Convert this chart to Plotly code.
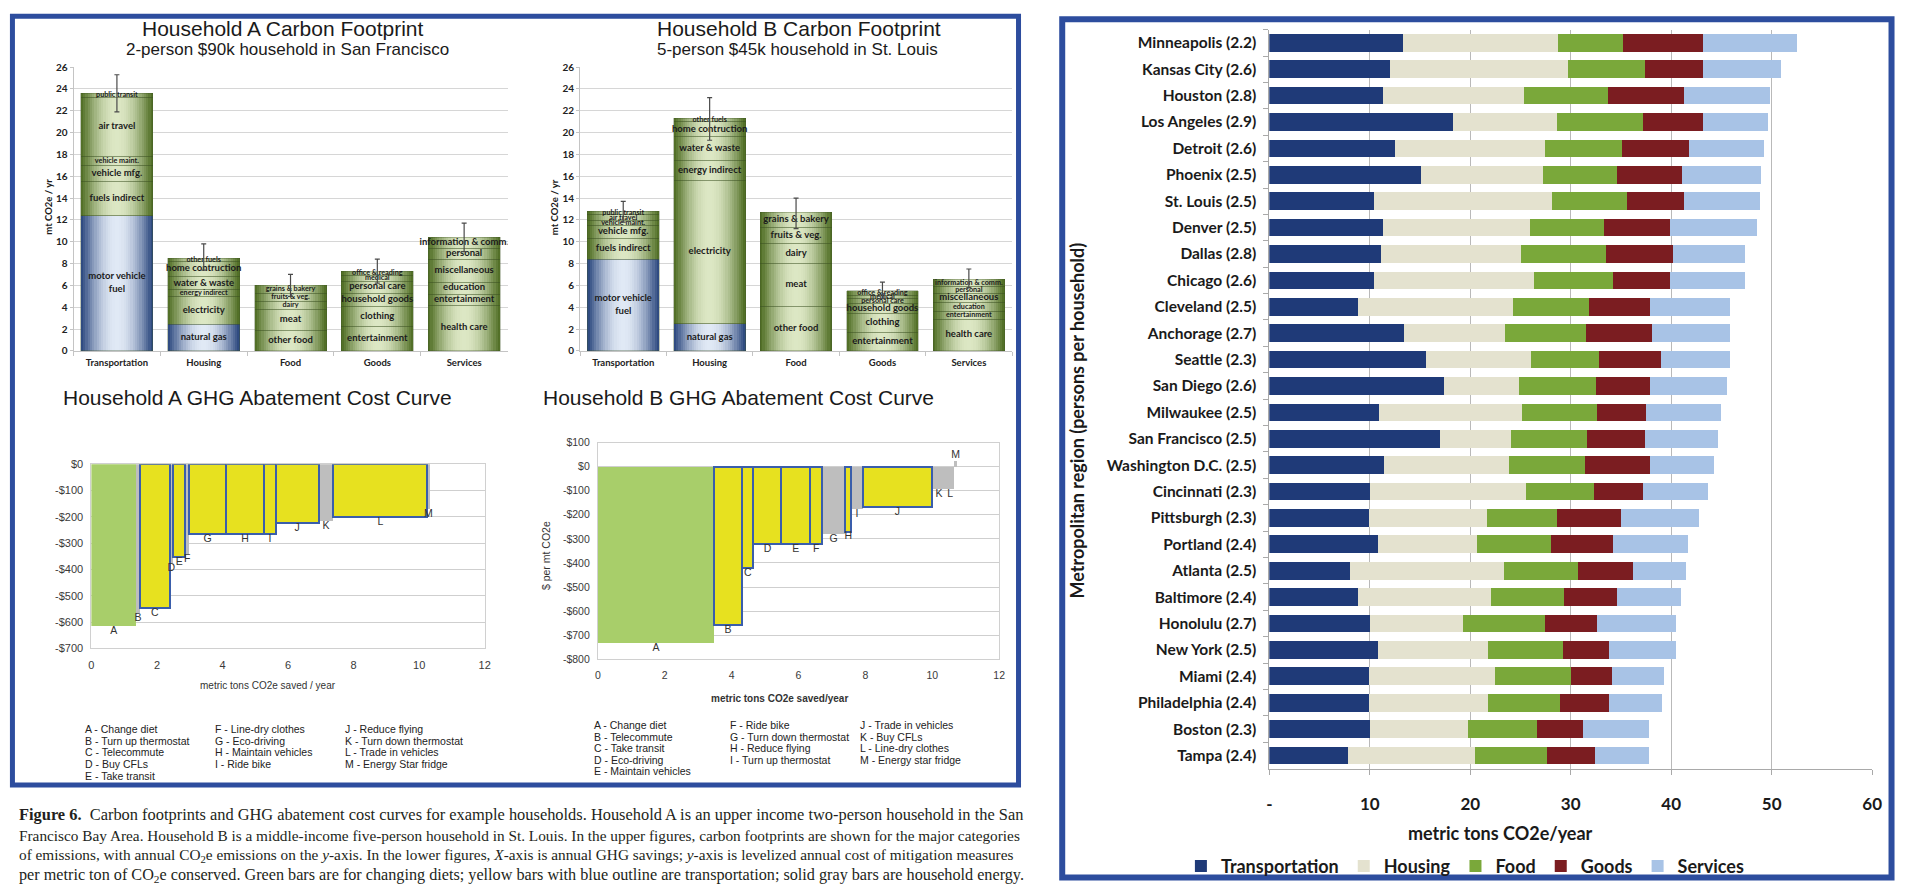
import plotly.graph_objects as go

FIG_W, FIG_H = 1905, 886


def fx(p):
    return p / FIG_W


def fy(p):
    return 1 - p / FIG_H


# ---------------- carbon footprint by category (mt CO2e / yr) ----------------
categories = ["Transportation", "Housing", "Food", "Goods", "Services"]

transport_parts = ["motor vehicle<br>fuel", "fuels indirect", "vehicle mfg.", "vehicle maint.", "air travel", "public transit"]
housing_parts = ["natural gas", "electricity", "energy indirect", "water & waste", "home contruction", "other fuels"]
food_parts = ["other food", "meat", "dairy", "fruits & veg.", "grains & bakery"]
goods_parts = ["entertainment", "clothing", "household goods", "personal care", "medical", "office & reading"]
services_parts = ["health care", "entertainment", "education", "miscellaneous", "personal", "information & comm."]

# Household A: 2-person $90k household in San Francisco (segments bottom to top)
a_transport = [12.4, 3.1, 1.5, 0.8, 5.4, 0.4]
a_housing = [2.45, 2.5, 0.65, 1.2, 1.4, 0.3]
a_food = [1.9, 1.9, 0.7, 0.8, 0.7]
a_goods = [2.2, 1.9, 1.2, 1.1, 0.5, 0.4]
a_services = [4.2, 1.0, 1.1, 2.1, 1.0, 1.0]
a_range_low = [21.9, 7.4, 5.0, 6.2, 9.1]
a_range_high = [25.3, 9.8, 7.0, 8.4, 11.7]

# Household B: 5-person $45k household in St. Louis
b_transport = [8.4, 1.9, 1.2, 0.4, 0.6, 0.3]
b_housing = [2.5, 13.1, 1.8, 2.2, 1.4, 0.3]
b_food = [4.1, 3.9, 1.8, 1.5, 1.4]
b_goods = [1.7, 1.7, 0.9, 0.5, 0.3, 0.4]
b_services = [2.9, 0.7, 0.8, 0.9, 0.6, 0.66]
b_range_low = [11.8, 19.3, 11.2, 4.8, 5.8]
b_range_high = [13.7, 23.2, 14.0, 6.3, 7.5]

# bottom segment of these categories is direct fuel use
direct_fuel = [True, True, False, False, False]

# ---------------- abatement cost curves ----------------
letters = list("ABCDEFGHIJKLM")

a_measures = ["Change diet", "Turn up thermostat", "Telecommute", "Buy CFLs", "Take transit",
              "Line-dry clothes", "Eco-driving", "Maintain vehicles", "Ride bike",
              "Reduce flying", "Turn down thermostat", "Trade in vehicles", "Energy Star fridge"]
a_savings = [1.36, 0.12, 0.91, 0.10, 0.38, 0.11, 1.13, 1.15, 0.37, 1.30, 0.45, 2.87, 0.07]
a_cost = [-615, -565, -548, -375, -352, -340, -265, -265, -265, -222, -215, -200, -170]
a_kind = ["diet", "energy", "transport", "energy", "transport", "energy", "transport",
          "transport", "transport", "transport", "energy", "transport", "energy"]

b_measures = ["Change diet", "Telecommute", "Take transit", "Eco-driving", "Maintain vehicles",
              "Ride bike", "Turn down thermostat", "Reduce flying", "Turn up thermostat",
              "Trade in vehicles", "Buy CFLs", "Line-dry clothes", "Energy star fridge"]
b_savings = [3.47, 0.84, 0.34, 0.84, 0.86, 0.35, 0.70, 0.17, 0.36, 2.05, 0.44, 0.23, 0.10]
b_cost = [-731, -659, -420, -320, -320, -320, -280, -270, -175, -168, -95, -95, 25]
b_kind = ["diet", "transport", "transport", "transport", "transport", "transport", "energy",
          "transport", "energy", "transport", "energy", "energy", "energy"]

a_cost_ticks = [0, -100, -200, -300, -400, -500, -600, -700]
b_cost_ticks = [100, 0, -100, -200, -300, -400, -500, -600, -700, -800]
saved_ticks = [0, 2, 4, 6, 8, 10, 12]

# ---------------- metropolitan regions (metric tons CO2e / year) ----------------
metros = ["Minneapolis (2.2)", "Kansas City (2.6)", "Houston (2.8)", "Los Angeles (2.9)",
          "Detroit (2.6)", "Phoenix (2.5)", "St. Louis (2.5)", "Denver (2.5)", "Dallas (2.8)",
          "Chicago (2.6)", "Cleveland (2.5)", "Anchorage (2.7)", "Seattle (2.3)",
          "San Diego (2.6)", "Milwaukee (2.5)", "San Francisco (2.5)", "Washington D.C. (2.5)",
          "Cincinnati (2.3)", "Pittsburgh (2.3)", "Portland (2.4)", "Atlanta (2.5)",
          "Baltimore (2.4)", "Honolulu (2.7)", "New York (2.5)", "Miami (2.4)",
          "Philadelphia (2.4)", "Boston (2.3)", "Tampa (2.4)"]
metro_transportation = [13.3, 12.0, 11.3, 18.3, 12.5, 15.1, 10.4, 11.3, 11.1, 10.4, 8.8, 13.4, 15.6, 17.4,
                        10.9, 17.0, 11.4, 10.0, 9.9, 10.8, 8.0, 8.8, 10.0, 10.8, 9.9, 9.9, 10.0, 7.8]
metro_housing = [15.4, 17.7, 14.0, 10.3, 14.9, 12.1, 17.7, 14.6, 14.0, 15.9, 15.5, 10.1, 10.4, 7.5,
                 14.3, 7.1, 12.5, 15.5, 11.8, 9.9, 15.4, 13.3, 9.3, 11.0, 12.6, 11.9, 9.8, 12.7]
metro_food = [6.5, 7.7, 8.4, 8.6, 7.7, 7.4, 7.5, 7.4, 8.4, 7.9, 7.5, 8.0, 6.8, 7.6,
              7.4, 7.5, 7.5, 6.8, 6.9, 7.3, 7.3, 7.2, 8.1, 7.4, 7.5, 7.1, 6.8, 7.1]
metro_goods = [8.0, 5.8, 7.6, 6.0, 6.7, 6.5, 5.7, 6.6, 6.7, 5.7, 6.1, 6.6, 6.2, 5.4,
               4.9, 5.8, 6.5, 4.9, 6.4, 6.2, 5.5, 5.3, 5.2, 4.6, 4.1, 4.9, 4.6, 4.8]
metro_services = [9.3, 7.7, 8.5, 6.4, 7.4, 7.8, 7.5, 8.6, 7.1, 7.4, 8.0, 7.8, 6.9, 7.7,
                  7.5, 7.3, 6.4, 6.5, 7.8, 7.5, 5.3, 6.4, 7.9, 6.7, 5.2, 5.3, 6.6, 5.4]
metro_ticks = [0, 10, 20, 30, 40, 50, 60]

# ---------------- styling ----------------
BORDER_BLUE = "#2d4d9e"
BLUE_EDGE, BLUE_MID = (42, 70, 125), (224, 233, 245)
GREEN_EDGE, GREEN_MID = (78, 108, 34), (220, 231, 196)
BAR_W = 0.83
LAYERS = 16
SANS = "Liberation Sans, Arial, sans-serif"
CAL = "Lato, Open Sans, sans-serif"

fig = go.Figure()


def shade(edge, mid, t):
    return "rgb(%d,%d,%d)" % tuple(round(e + (m - e) * t) for e, m in zip(edge, mid))


def add_footprint(xa, ya, parts, low, high):
    names = [transport_parts, housing_parts, food_parts, goods_parts, services_parts]
    totals = [sum(p) for p in parts]
    fuel_x = [c for c, d in zip(categories, direct_fuel) if d]
    fuel_h = [p[0] for p, d in zip(parts, direct_fuel) if d]
    green_base = [p[0] if d else 0 for p, d in zip(parts, direct_fuel)]
    green_h = [t - b for t, b in zip(totals, green_base)]
    # cylinder-like shading: nested bars from dark rim to pale centre
    for k in range(LAYERS):
        f = 1 - (k + 0.5) / LAYERS
        t = (1 - f * f) ** 1.2
        w = BAR_W * (1 - k / LAYERS)
        fig.add_bar(x=fuel_x, y=fuel_h, base=[0] * len(fuel_x), width=w,
                    marker=dict(color=shade(BLUE_EDGE, BLUE_MID, t), line_width=0),
                    xaxis=xa, yaxis=ya, showlegend=False, hoverinfo="skip")
        fig.add_bar(x=categories, y=green_h, base=green_base, width=w,
                    marker=dict(color=shade(GREEN_EDGE, GREEN_MID, t), line_width=0),
                    xaxis=xa, yaxis=ya, showlegend=False, hoverinfo="skip")
    seg_x, seg_base, seg_h, seg_mid, seg_txt, seg_size = [], [], [], [], [], []
    for cat, vals, labels in zip(categories, parts, names):
        b = 0
        for v, n in zip(vals, labels):
            seg_x.append(cat)
            seg_base.append(b)
            seg_h.append(v)
            seg_mid.append(b + v / 2)
            seg_txt.append("<b>%s</b>" % n)
            seg_size.append(9.5 if v >= 0.9 else 7.2)
            b += v
    fig.add_bar(x=seg_x, y=seg_h, base=seg_base, width=BAR_W,
                marker=dict(color="rgba(0,0,0,0)", line=dict(color="rgba(60,80,35,0.4)", width=0.8)),
                xaxis=xa, yaxis=ya, showlegend=False, hoverinfo="skip")
    fig.add_scatter(x=seg_x, y=seg_mid, text=seg_txt, mode="text",
                    textfont=dict(family=CAL, size=seg_size, color="#1b1b1b"),
                    xaxis=xa, yaxis=ya, showlegend=False, hoverinfo="skip")
    fig.add_scatter(x=categories, y=totals, mode="markers", marker=dict(size=1, opacity=0),
                    error_y=dict(type="data", symmetric=False,
                                 array=[h - t for h, t in zip(high, totals)],
                                 arrayminus=[t - l for t, l in zip(totals, low)],
                                 color="#4a4a4a", thickness=1.2, width=2.5),
                    xaxis=xa, yaxis=ya, showlegend=False, hoverinfo="skip")


def add_abatement(xa, ya, savings, cost, kind):
    starts, s = [], 0
    for w in savings:
        starts.append(s)
        s += w
    mids = [a + w / 2 for a, w in zip(starts, savings)]
    styles = {
        "diet": dict(color="#a8ce6a", line=dict(width=0)),
        "energy": dict(color="#bebebe", line=dict(width=0)),
        "transport": dict(color="#e7e11f", line=dict(color="#3a5eab", width=2)),
    }
    for kd in ["diet", "energy", "transport"]:
        idx = [i for i, k in enumerate(kind) if k == kd]
        fig.add_bar(x=[mids[i] for i in idx], y=[cost[i] for i in idx],
                    width=[savings[i] for i in idx], base=[0] * len(idx),
                    marker=styles[kd], xaxis=xa, yaxis=ya, showlegend=False, hoverinfo="skip")
    fig.add_scatter(x=mids, y=cost, text=letters, mode="text",
                    textposition=["bottom center" if c < 0 else "top center" for c in cost],
                    textfont=dict(family=SANS, size=10.5, color="#333333"),
                    xaxis=xa, yaxis=ya, showlegend=False, hoverinfo="skip")


add_footprint("x", "y", [a_transport, a_housing, a_food, a_goods, a_services], a_range_low, a_range_high)
add_footprint("x2", "y2", [b_transport, b_housing, b_food, b_goods, b_services], b_range_low, b_range_high)
add_abatement("x3", "y3", a_savings, a_cost, a_kind)
add_abatement("x4", "y4", b_savings, b_cost, b_kind)

metro_series = [
    ("Transportation", metro_transportation, "#1f3a78"),
    ("Housing", metro_housing, "#e4e2cf"),
    ("Food", metro_food, "#7aa83a"),
    ("Goods", metro_goods, "#7b1d21"),
    ("Services", metro_services, "#a8c3e6"),
]
for name, vals, color in metro_series:
    fig.add_bar(x=vals, y=metros, orientation="h", name=name, marker=dict(color=color, line_width=0),
                xaxis="x5", yaxis="y5", hovertemplate="%{y}: %{x}<extra>" + name + "</extra>")


# ---------------- axes ----------------
def footprint_axes(x0, x1, ya_name):
    return dict(domain=[fx(x0), fx(x1)], anchor=ya_name, type="category",
                categoryorder="array", categoryarray=categories, range=[-0.5, 4.5],
                showgrid=False, showline=True, linecolor="#c4c4c4", ticks="outside",
                tickson="boundaries", ticklen=4, tickcolor="#c4c4c4", ticklabelstandoff=3,
                tickfont=dict(family=CAL, size=9.5, color="#222", weight="bold"), fixedrange=True)


def footprint_yaxis(xa_name):
    return dict(domain=[fy(349), fy(61)], anchor=xa_name, range=[0, 26], dtick=2,
                showgrid=True, gridcolor="#d6d6d6", gridwidth=1, zeroline=False,
                showline=True, linecolor="#c4c4c4", ticks="outside", ticklen=3, tickcolor="#c4c4c4",
                tickfont=dict(family=CAL, size=10, color="#222", weight="bold"), fixedrange=True)


def cost_label(v):
    return ("-$%d" % -v) if v < 0 else ("$%d" % v)


def abatement_axes(x0, x1, y0, y1, ticks, ya_name, xa_name, tick_size):
    xa = dict(domain=[fx(x0), fx(x1)], anchor=ya_name, range=[0, 12], tickvals=saved_ticks,
              showgrid=False, zeroline=False, showline=True, mirror=True, linecolor="#d0d0d0",
              ticks="", ticklabelstandoff=6,
              tickfont=dict(family=SANS, size=tick_size, color="#3a3a3a"), fixedrange=True)
    ya = dict(domain=[fy(y1), fy(y0)], anchor=xa_name, range=[min(ticks), max(ticks)],
              tickvals=ticks, ticktext=[cost_label(v) for v in ticks],
              showgrid=True, gridcolor="#cfcfcf", zeroline=False, showline=True, mirror=True,
              linecolor="#d0d0d0", ticks="", ticklabelstandoff=5,
              tickfont=dict(family=SANS, size=tick_size, color="#3a3a3a"), fixedrange=True)
    return xa, ya


ax3, ay3 = abatement_axes(89, 485, 464, 651, a_cost_ticks, "y3", "x3", 11)
ax4, ay4 = abatement_axes(599, 1003, 442, 662, b_cost_ticks, "y4", "x4", 10.5)

layout_axes = dict(
    xaxis=footprint_axes(71, 508, "y"),
    yaxis=footprint_yaxis("x"),
    xaxis2=footprint_axes(581, 1016, "y2"),
    yaxis2=footprint_yaxis("x2"),
    xaxis3=ax3, yaxis3=ay3,
    xaxis4=ax4, yaxis4=ay4,
    xaxis5=dict(domain=[fx(1275), fx(1882)], anchor="y5", range=[0, 60], tickvals=metro_ticks,
                ticktext=["-" if v == 0 else str(v) for v in metro_ticks],
                showgrid=True, gridcolor="#b9b9b9", gridwidth=1, zeroline=False,
                showline=True, linecolor="#a9a9a9", ticks="outside", ticklen=5, tickcolor="#a9a9a9",
                ticklabelstandoff=15,
                tickfont=dict(family=CAL, size=17, color="#1a1a1a", weight="bold"), fixedrange=True),
    yaxis5=dict(domain=[fy(773), fy(23)], anchor="x5", type="category", categoryorder="array",
                categoryarray=metros, autorange="reversed", showgrid=False, showline=True,
                linecolor="#a9a9a9", ticks="outside", tickson="boundaries", ticklen=5,
                tickcolor="#a9a9a9", ticklabelstandoff=9,
                tickfont=dict(family=CAL, size=15.5, color="#1a1a1a", weight="bold"), fixedrange=True),
)

# ---------------- text ----------------
annotations = []


def note(x, y, text, size, family=SANS, color="#1a1a1a", xanchor="center", angle=0, weight="normal"):
    annotations.append(dict(x=fx(x), y=fy(y), xref="paper", yref="paper", text=text, showarrow=False,
                            xanchor=xanchor, yanchor="middle", textangle=angle,
                            font=dict(family=family, size=size, color=color, weight=weight)))


note(282, 22, "Household A Carbon Footprint", 21)
note(286, 43, "2-person $90k household in San Francisco", 17)
note(801, 22, "Household B Carbon Footprint", 21)
note(800, 43, "5-person $45k household in St. Louis", 17)
note(45, 203, "mt CO2e / yr", 9.5, family=CAL, angle=-90, weight="bold")
note(555, 203, "mt CO2e / yr", 9.5, family=CAL, angle=-90, weight="bold")

note(58, 396, "Household A GHG Abatement Cost Curve", 21, xanchor="left")
note(542, 396, "Household B GHG Abatement Cost Curve", 21, xanchor="left")
note(267, 689, "metric tons CO2e saved / year", 10, color="#333")
note(782, 702, "metric tons CO2e saved/year", 10, color="#333", weight="bold")
note(547, 557, "$ per mt CO2e", 10.5, color="#333", angle=-90)

NARROW = "Liberation Sans Narrow, Arial Narrow, Liberation Sans, sans-serif"
key_cols = [(0, 5), (5, 9), (9, 13)]
for measures, col_x, row0, step in [(a_measures, [81, 211, 342], 733, 11.8),
                                    (b_measures, [593, 730, 861], 729, 11.6)]:
    for (i0, i1), cx in zip(key_cols, col_x):
        for r, i in enumerate(range(i0, i1)):
            note(cx, row0 + r * step, "%s - %s" % (letters[i], measures[i]), 10.5,
                 family=NARROW, color="#222", xanchor="left")

note(1081, 420, "Metropolitan region (persons per household)", 18, family=CAL, angle=-90, weight="bold")
note(1508, 838, "metric tons CO2e/year", 18, family=CAL, weight="bold")

SERIF = "Liberation Serif, DejaVu Serif, serif"
caption = [
    "<b>Figure 6.</b>  Carbon footprints and GHG abatement cost curves for example households. Household A is an upper income two-person household in the San",
    "Francisco Bay Area. Household B is a middle-income five-person household in St. Louis. In the upper figures, carbon footprints are shown for the major categories",
    "of emissions, with annual CO<sub>2</sub>e emissions on the <i>y</i>-axis. In the lower figures, <i>X</i>-axis is annual GHG savings; <i>y</i>-axis is levelized annual cost of mitigation measures",
    "per metric ton of CO<sub>2</sub>e conserved. Green bars are for changing diets; yellow bars with blue outline are transportation; solid gray bars are household energy.",
]
caption_sizes = [16.4, 15.3, 15.3, 16.2]
for i, (line, size) in enumerate(zip(caption, caption_sizes)):
    note(14, 820 + i * 20.4, line, size, family=SERIF, color="#231f20", xanchor="left")

shapes = [
    dict(type="rect", xref="paper", yref="paper", x0=fx(9.5), x1=fx(1022.5), y0=fy(9.5), y1=fy(789.5),
         line=dict(color=BORDER_BLUE, width=5), fillcolor="rgba(0,0,0,0)", layer="above"),
    dict(type="rect", xref="paper", yref="paper", x0=fx(1066.5), x1=fx(1901.5), y0=fy(12.5), y1=fy(883.5),
         line=dict(color=BORDER_BLUE, width=6), fillcolor="rgba(0,0,0,0)", layer="above"),
]

fig.update_layout(
    width=FIG_W, height=FIG_H, margin=dict(l=0, r=0, t=0, b=0),
    paper_bgcolor="white", plot_bgcolor="white",
    barmode="stack", bargap=0.33,
    font=dict(family=SANS, color="#1a1a1a"),
    showlegend=True,
    legend=dict(orientation="h", x=fx(1186), y=fy(872), xanchor="left", yanchor="middle",
                font=dict(family=CAL, size=18, color="#1a1a1a", weight="bold"),
                itemwidth=30, bgcolor="rgba(0,0,0,0)", traceorder="normal"),
    annotations=annotations,
    shapes=shapes,
    **layout_axes,
)

fig.write_html("out.html", config={"displayModeBar": False})
